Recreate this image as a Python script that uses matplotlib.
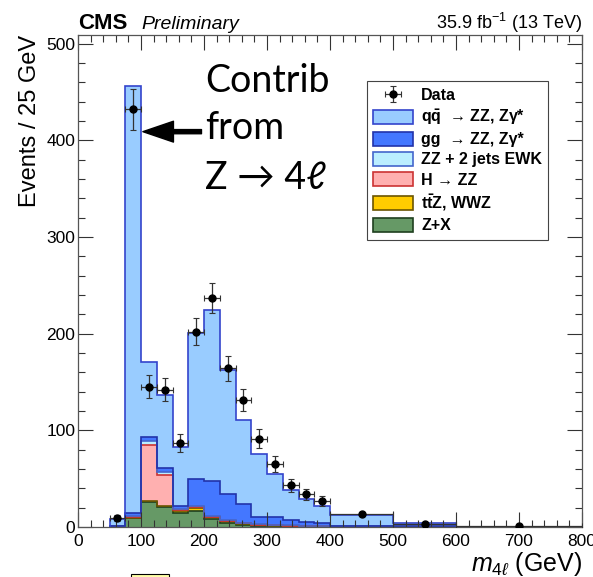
"""
Four-lepton invariant mass distribution, stacked backgrounds vs. data.
"""

import numpy as np
import matplotlib.pyplot as plt
from matplotlib.patches import Patch, Rectangle

plt.rcParams['font.family'] = ['Liberation Sans', 'DejaVu Sans']
plt.rcParams['mathtext.fontset'] = 'custom'
plt.rcParams['mathtext.rm'] = 'Liberation Sans'
plt.rcParams['mathtext.it'] = 'Liberation Sans:italic'
plt.rcParams['mathtext.bf'] = 'Liberation Sans:bold'

# m4l bin edges (GeV)
edges = [50, 75, 100, 125, 150, 175, 200, 225, 250, 275, 300, 325, 350, 375,
         400, 500, 600, 800]

# expected events / 25 GeV per process (bottom of the stack first)
zx = [0.5, 9, 25.6, 21, 14, 17, 8, 4.5, 2.5, 1.5, 1.0, 0.8, 0.6, 0.5, 0.2, 0.1, 0.05]
ttz = [0.1, 0.5, 0.9, 1.0, 2.6, 2.7, 2.0, 1.3, 1.0, 0.7, 0.5, 0.4, 0.3, 0.3, 0.2, 0.1, 0.05]
higgs = [0.4, 1.2, 58.5, 32, 0.9, 0.5, 0.3, 0.2, 0.2, 0.1, 0.1, 0.1, 0.1, 0.1, 0.05, 0.0, 0.0]
ewk = [0.2, 0.8, 4, 3, 1.0, 1.3, 1.2, 1.0, 0.8, 0.7, 0.6, 0.5, 0.4, 0.3, 0.25, 0.2, 0.1]
gg = [0.3, 2.5, 4, 4.5, 3.3, 27.9, 36.2, 27, 19, 7.7, 7.8, 5.4, 3.6, 3.3, 0.8, 0.6, 0.2]
qq = [6.5, 442, 78, 75.5, 61.2, 151.6, 176.3, 128, 87.5, 65.3, 45, 30.8, 24, 17.5, 11, 2.8, 0.05]

# observed data / 25 GeV
data_x = [62.5, 87.5, 112.5, 137.5, 162.5, 187.5, 212.5, 237.5, 262.5, 287.5,
          312.5, 337.5, 362.5, 387.5, 450, 550, 700]
data_y = [9, 432, 145, 142, 87, 202, 237, 164, 131, 91.5, 65, 43, 34, 27, 13, 3.5, 0.6]
data_err = [3, 20.8, 12, 11.9, 9.3, 14.2, 15.4, 12.8, 11.4, 9.6, 8.1, 6.6, 5.8,
            5.2, 1.8, 0.9, 0.4]

procs = [
    (zx, '#669966', '#1f3f1f', 'Z+X'),
    (ttz, '#ffcc00', '#6b5500', r't$\mathbf{\bar{t}}$Z, WWZ'),
    (higgs, '#ffb0b0', '#cc3333', 'H \u2192 ZZ'),
    (ewk, '#bbeeff', '#4466cc', 'ZZ + 2 jets EWK'),
    (gg, '#4477ff', '#2233aa', 'gg  \u2192 ZZ, Z\u03b3*'),
    (qq, '#99ccff', '#3344cc', r'q$\mathbf{\bar{q}}$' + '  \u2192 ZZ, Z\u03b3*'),
]

fig = plt.figure(figsize=(5.93, 5.77), dpi=100)
ax = fig.add_axes([78 / 593, 1 - 527 / 577, 504 / 593, 492 / 577])

# stacked histograms, drawn as filled stairs on top of each other
bottom = np.zeros(len(edges) - 1)
handles = []
for vals, fc, ec, lab in procs:
    top = bottom + np.array(vals)
    ax.stairs(top, edges, baseline=bottom, fill=True, color=fc, zorder=1)
    ax.stairs(top, edges, baseline=0, fill=False, color=ec, lw=1.2, zorder=1.1)
    handles.append(Patch(facecolor=fc, edgecolor=ec, lw=1.2, label=lab))
    bottom = top

half_w = (np.diff(edges) / 2)
dat = ax.errorbar(data_x, data_y, yerr=data_err, xerr=half_w, fmt='o',
                  color='black', ms=5, ecolor='#333333', elinewidth=0.9,
                  capsize=2, capthick=0.8, zorder=5, label='Data')

ax.set_xlim(0, 800)
ax.set_ylim(0, 509)
ax.set_xticks(np.arange(0, 801, 100))
ax.set_xticks(np.arange(0, 801, 20), minor=True)
ax.set_yticks(np.arange(0, 501, 100))
ax.set_yticks(np.arange(0, 501, 20), minor=True)
ax.tick_params(which='both', direction='in', top=True, right=True,
               labelsize=12.5, color='#333333', width=0.8)
ax.tick_params(which='major', length=10.5)
ax.tick_params(which='minor', length=5)
ax.tick_params(axis='x', pad=5)
ax.tick_params(axis='y', pad=2)
for s in ax.spines.values():
    s.set_color('#555555')
    s.set_linewidth(0.9)

ax.set_xlabel(r'$m_{4\ell}$ (GeV)', fontsize=18, loc='right', labelpad=1)
ax.set_ylabel('Events / 25 GeV', fontsize=17, loc='top', labelpad=4)

ax.text(0, 1.013, 'CMS', transform=ax.transAxes, fontsize=16,
        fontweight='bold', ha='left', va='baseline')
ax.text(0.125, 1.013, 'Preliminary', transform=ax.transAxes, fontsize=14,
        style='italic', ha='left', va='baseline')
ax.text(1.0, 1.013, r'35.9 fb$^{-1}$ (13 TeV)', transform=ax.transAxes,
        fontsize=13, ha='right', va='baseline')

leg_handles = [dat] + handles[::-1]
leg = ax.legend(handles=leg_handles, loc='upper left',
                bbox_to_anchor=(0.573, 0.9065), borderaxespad=0,
                prop={'weight': 'bold', 'size': 11.5}, frameon=True,
                fancybox=False, edgecolor='#444444', framealpha=1,
                handlelength=2.5, handleheight=0.95, handletextpad=0.5,
                labelspacing=0.3, borderpad=0.4)
leg.get_frame().set_linewidth(0.8)

# Z -> 4l peak callout
note_font = ['Lato', 'DejaVu Sans']
ax.text(201.5, 450, 'Contrib', fontsize=27, family=note_font, va='baseline')
ax.text(201.5, 401, 'from', fontsize=27, family=note_font, va='baseline')
ax.text(201.5, 350, 'Z → 4ℓ', fontsize=27, family=note_font, va='baseline')
ax.annotate('', xy=(103, 409), xytext=(196, 409),
            arrowprops=dict(width=3, headwidth=15, headlength=22,
                            color='black', shrink=0))

fig.patches.append(Rectangle((131 / 593, -0.01), 38 / 593, 0.01 + 3.5 / 577,
                             transform=fig.transFigure, facecolor='#ffffa8',
                             edgecolor='black', lw=0.8))

fig.savefig('out.png', dpi=100)
